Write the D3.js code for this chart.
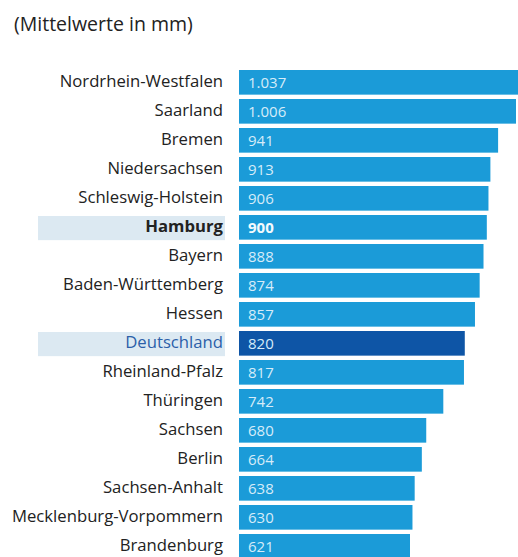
<!DOCTYPE html>
<html><head><meta charset="utf-8">
<script src="https://cdn.jsdelivr.net/npm/d3@7"></script>
<style>body{margin:0;background:#fff;}svg{display:block;}</style>
</head><body>
<script>
const categories = ["Nordrhein-Westfalen","Saarland","Bremen","Niedersachsen","Schleswig-Holstein","Hamburg","Bayern","Baden-Württemberg","Hessen","Deutschland","Rheinland-Pfalz","Thüringen","Sachsen","Berlin","Sachsen-Anhalt","Mecklenburg-Vorpommern","Brandenburg"];
const values = [1037,1006,941,913,906,900,888,874,857,820,817,742,680,664,638,630,621];
const valueLabels = ["1.037","1.006","941","913","906","900","888","874","857","820","817","742","680","664","638","630","621"];
const title = "(Mittelwerte in mm)";
const highlightBold = "Hamburg";
const highlightNational = "Deutschland";

const W = 518, H = 557;
const svg = d3.select("body").append("svg").attr("width", W).attr("height", H);
const font = "'Open Sans', 'Noto Sans', sans-serif";

svg.append("text").attr("x", 14).attr("y", 31).attr("font-family", font).attr("font-size", 19.5)
  .attr("fill", "#222").text(title);

const x = d3.scaleLinear().domain([0, 1006]).range([239, 516]);
const y = d3.scaleBand().domain(categories).range([70, 558.65]).paddingInner(0.15).paddingOuter(0);

const data = categories.map((c, i) => ({c, v: values[i], l: valueLabels[i]}));

// label highlight bands
svg.selectAll("rect.hl").data(data.filter(d => d.c === highlightBold || d.c === highlightNational))
  .join("rect").attr("class", "hl")
  .attr("x", 38).attr("width", 187)
  .attr("y", d => y(d.c) + 1).attr("height", y.bandwidth() - 0.5)
  .attr("fill", "#dce9f2");

svg.selectAll("rect.bar").data(data).join("rect").attr("class", "bar")
  .attr("x", x(0)).attr("y", d => y(d.c))
  .attr("width", d => x(d.v) - x(0)).attr("height", y.bandwidth())
  .attr("fill", d => d.c === highlightNational ? "#0e55a6" : "#1b9bd8");

svg.selectAll("text.cat").data(data).join("text").attr("class", "cat")
  .attr("x", 223).attr("y", d => y(d.c) + y.bandwidth() / 2).attr("dy", "0.3em")
  .attr("text-anchor", "end").attr("font-family", font).attr("font-size", 16.7)
  .attr("font-weight", d => d.c === highlightBold ? "bold" : "normal")
  .attr("fill", d => d.c === highlightNational ? "#2c5fa9" : "#222")
  .text(d => d.c);

svg.selectAll("text.val").data(data).join("text").attr("class", "val")
  .attr("x", x(0) + 9).attr("y", d => y(d.c) + y.bandwidth() / 2).attr("dy", "0.35em")
  .attr("font-family", font).attr("font-size", 15)
  .attr("font-weight", d => d.c === highlightBold ? "bold" : "normal")
  .attr("fill", d => d.c === highlightBold ? "#f4fafd" : "#d6ecf9")
  .text(d => d.l);
</script>
</body></html>
